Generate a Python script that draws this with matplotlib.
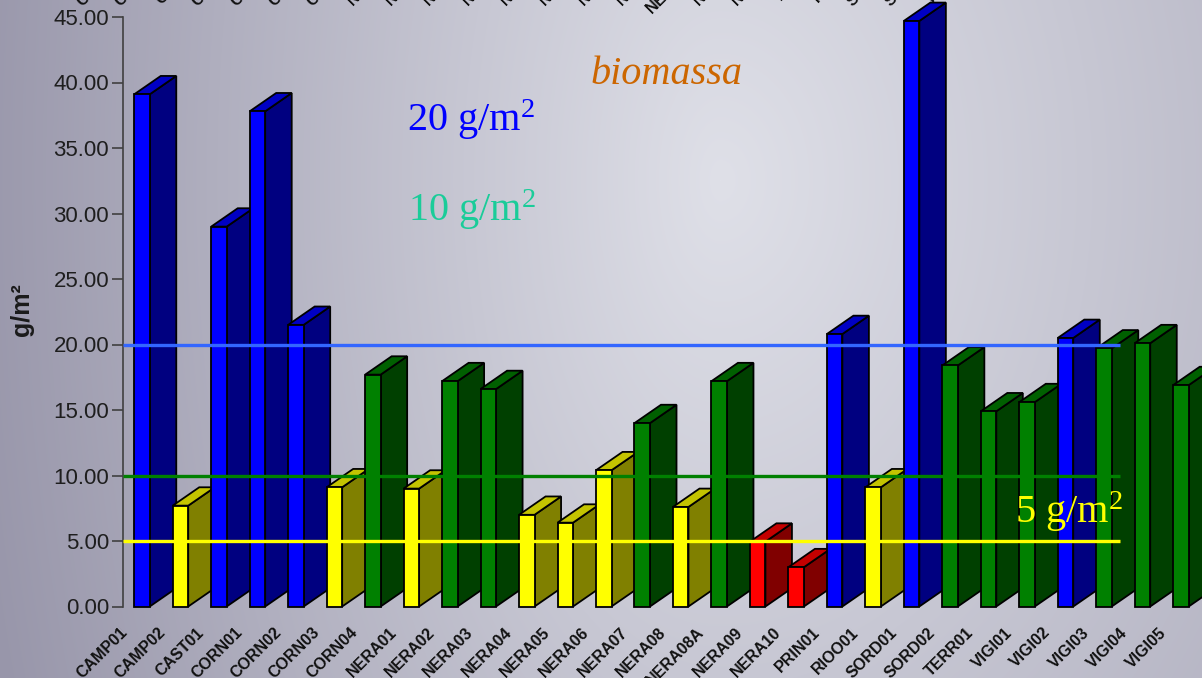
import numpy as np
import matplotlib
matplotlib.use("Agg")
import matplotlib.pyplot as plt
from matplotlib.patches import Polygon
from matplotlib.ticker import FormatStrFormatter

# ---- data -------------------------------------------------------------
sites = ["CAMP01", "CAMP02", "CAST01", "CORN01", "CORN02", "CORN03", "CORN04",
         "NERA01", "NERA02", "NERA03", "NERA04", "NERA05", "NERA06", "NERA07",
         "NERA08", "NERA08A", "NERA09", "NERA10", "PRIN01", "RIOO01", "SORD01",
         "SORD02", "TERR01", "VIGI01", "VIGI02", "VIGI03", "VIGI04", "VIGI05"]
biomass = [39.1, 7.7, 29.0, 37.8, 21.5, 9.1, 17.7,
           9.0, 17.2, 16.6, 7.0, 6.4, 10.4, 14.0,
           7.6, 17.2, 4.95, 3.0, 20.8, 9.1, 44.7,
           18.4, 14.9, 15.6, 20.5, 19.7, 20.1, 16.9]
classes = ["blue", "yellow", "blue", "blue", "blue", "yellow", "green",
           "yellow", "green", "green", "yellow", "yellow", "yellow", "green",
           "yellow", "green", "red", "red", "blue", "yellow", "blue",
           "green", "green", "green", "blue", "green", "green", "green"]
thresholds = [20, 10, 5]
threshold_colors = ["#3366FF", "#008000", "#FFFF00"]
yticks = [0, 5, 10, 15, 20, 25, 30, 35, 40, 45]

# front / side / top shades of each class
palette = {
    "blue":   ("#0000FF", "#000080", "#0000C4"),
    "yellow": ("#FFFF00", "#808000", "#C4C400"),
    "green":  ("#008000", "#004000", "#006000"),
    "red":    ("#FF0000", "#800000", "#C40000"),
}

W, H = 1202, 678
fig = plt.figure(figsize=(W / 100, H / 100), dpi=100)

# ---- shaded backdrop ----------------------------------------------------
bg = fig.add_axes([0, 0, 1, 1], zorder=-10)
bg.set_axis_off()
xx, yy = np.meshgrid(np.arange(W), np.arange(H))
hx = np.where(xx < 720, (xx - 720) / 760.0, (xx - 720) / 1100.0)
vy = (yy - 180) / 1500.0
t = np.clip(np.sqrt(hx ** 2 + vy ** 2), 0, 1)
light = np.array([223, 224, 232]) / 255.0
dark = np.array([152, 150, 170]) / 255.0
img = light[None, None, :] * (1 - t[..., None]) + dark[None, None, :] * t[..., None]
bg.imshow(img, aspect="auto", extent=[0, 1, 0, 1], origin="upper")
bg.set_xlim(0, 1)
bg.set_ylim(0, 1)

# ---- main axes ---------------------------------------------------------
left_px, zero_px, top_px, step_px = 123, 606.5, 17.0, 38.48
ax = fig.add_axes([left_px / W, (H - zero_px) / H, 1 - left_px / W, (zero_px - top_px) / H])
ax.patch.set_alpha(0)
x_left = (left_px - 142) / step_px
ax.set_xlim(x_left, x_left + (W - left_px) / step_px)
ax.set_ylim(0, 45)

half = 0.2015          # half width of a bar's front face
dx, dy = 0.689, 1.40   # depth offset of the 3-D extrusion

for i, (v, c) in enumerate(zip(biomass, classes)):
    front, side, top = palette[c]
    x0, x1 = i - half, i + half
    z = 2 + i * 0.01
    kw = dict(edgecolor="black", linewidth=1.3, joinstyle="miter", clip_on=False)
    ax.add_patch(Polygon([(x1, 0), (x1 + dx, dy), (x1 + dx, v + dy), (x1, v)],
                         facecolor=side, zorder=z, **kw))
    ax.add_patch(Polygon([(x0, v), (x1, v), (x1 + dx, v + dy), (x0 + dx, v + dy)],
                         facecolor=top, zorder=z, **kw))
    ax.add_patch(Polygon([(x0, 0), (x1, 0), (x1, v), (x0, v)],
                         facecolor=front, zorder=z + 0.001, **kw))

line_end = (1120 - 142) / step_px
for yv, col in zip(thresholds, threshold_colors):
    ax.hlines(yv, x_left, line_end, colors=col, linewidth=2.4, zorder=5)

# axes styling
for s in ["top", "right", "bottom"]:
    ax.spines[s].set_visible(False)
ax.spines["left"].set_color("#404040")
ax.spines["left"].set_linewidth(1.2)
ax.set_xticks([])
ax.set_yticks(yticks)
ax.yaxis.set_major_formatter(FormatStrFormatter("%.2f"))
ax.tick_params(axis="y", length=8, width=1.2, color="#404040", pad=2,
               labelsize=16, labelcolor="#1e1e1e")
for lab in ax.get_yticklabels():
    lab.set_family("Liberation Sans")

# site labels below the bars and the clipped row along the top edge
xt = ax.get_xaxis_transform()
for i, name in enumerate(sites):
    for ly in (-0.040, 1.100):
        ax.text(i - 0.45, ly, name, transform=xt, rotation=45, rotation_mode="anchor",
                ha="right", va="center", fontsize=11.5, fontweight="bold",
                family="Liberation Sans", color="#111111", clip_on=False)

# ---- annotations -------------------------------------------------------
plt.rcParams["mathtext.fontset"] = "custom"
plt.rcParams["mathtext.rm"] = "Liberation Serif"
plt.rcParams["mathtext.it"] = "Liberation Serif:italic"

def fx(px):
    return px / W

def fy(py):
    return 1 - py / H

fig.text(fx(22), fy(310), "g/m²", rotation=90, ha="center", va="center",
         fontsize=18, fontweight="bold", family="Liberation Sans", color="#1a1a1a")
fig.text(fx(590), fy(75), "biomassa", ha="left", va="center", fontsize=29,
         style="italic", family="Liberation Serif", color="#CC6600")
fig.text(fx(407), fy(120), r"20 g/$\mathrm{m}^{2}$", ha="left", va="center",
         fontsize=29, family="Liberation Serif", color="#0000FF")
fig.text(fx(408), fy(210), r"10 g/$\mathrm{m}^{2}$", ha="left", va="center",
         fontsize=29, family="Liberation Serif", color="#1ACC99")
fig.text(fx(1015), fy(512), r"5 g/$\mathrm{m}^{2}$", ha="left", va="center",
         fontsize=29, family="Liberation Serif", color="#FFFF00", zorder=10)

fig.savefig("out.png", dpi=100)
